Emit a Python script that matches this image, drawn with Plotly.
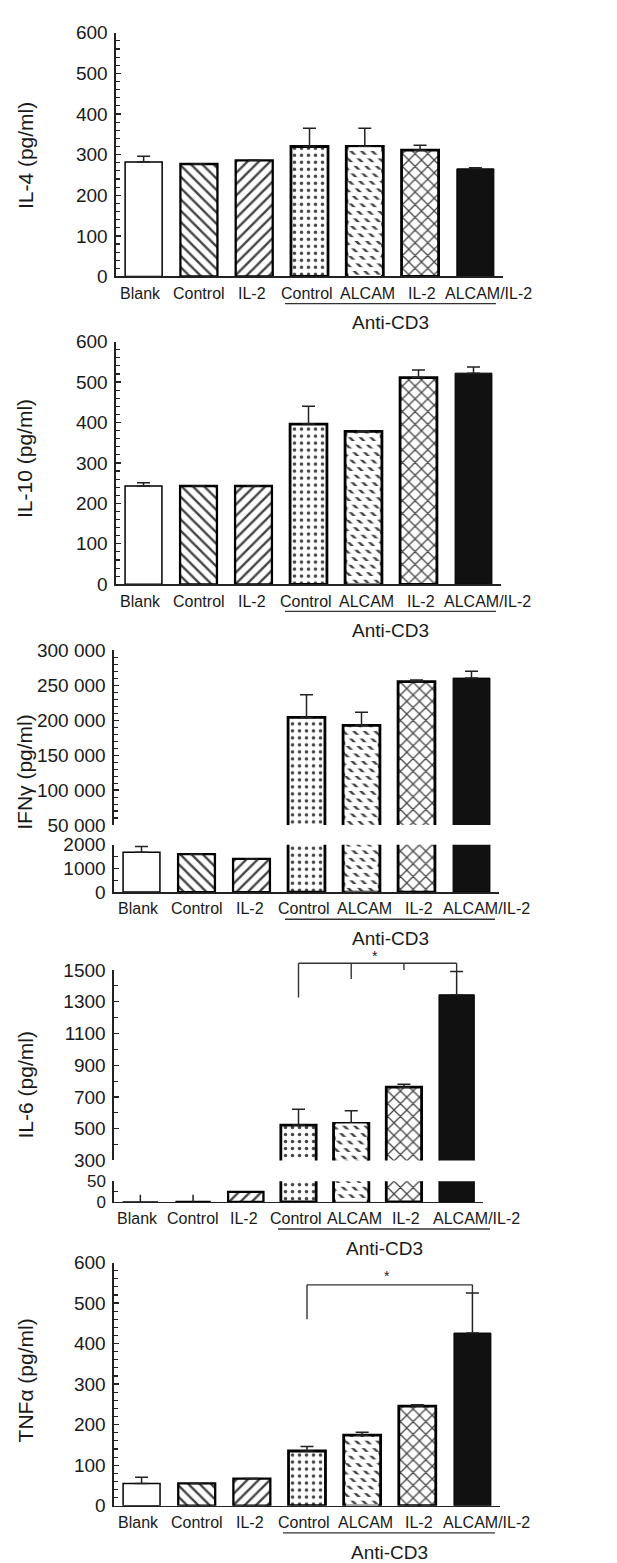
import plotly.graph_objects as go

W, H = 617, 1563

# ---------------- data ----------------
categories = ["Blank", "Control", "IL-2", "Control", "ALCAM", "IL-2", "ALCAM/IL-2"]
group_label = "Anti-CD3"

il4_mean = [282, 277, 286, 320, 320, 311, 265]
il4_sem = [14, 0, 0, 45, 45, 12, 2.5]

il10_mean = [243, 243, 243, 396, 378, 511, 522]
il10_sem = [8, 0, 0, 44, 1.5, 19, 15]

ifng_mean = [1680, 1600, 1400, 204000, 192700, 255200, 260300]
ifng_sem = [250, 0, 0, 32400, 18800, 2300, 9900]

il6_mean = [0, 0, 24, 523, 533, 762, 1344]
il6_sem = [17, 17, 0, 99, 80, 18, 146]

tnfa_mean = [55, 55, 67, 135, 174, 246, 426]
tnfa_sem = [15, 0, 0, 11, 7.5, 3, 99]

# significance brackets (value heights)
il6_bracket_top = 1543
il6_bracket_legs = [1327, 1444, 1500, 1488]
il6_star_y = 1590
tnfa_bracket_top = 545
tnfa_bracket_legs = [460, 525]
tnfa_star_y = 566

# ---------------- helpers ----------------
def fx(px):
    return px / W

def fy(py):
    return 1 - py / H

FONT = "Liberation Sans, Arial, Helvetica, sans-serif"
INK = "#000000"
AX = "#222222"
TXT = "#1a1a1a"

fills = ["white"] * 6 + ["#111111"]
pshape = ["", "\\", "/", ".", "\\", "x", ""]
psize = [8, 8, 8, 7, 7.5, 9, 8]
psolid = [0.2, 0.3, 0.3, 0.2, 0.34, 0.26, 0.2]
lwidth = [1.5, 2.3, 2.3, 2.8, 2.8, 2.8, 1]
label_shift = [-3, 0, -2, -3, 3, 2, 13]
BAR_W = 0.67

fig = go.Figure()


def add_bars(idx, means, sems, xa, ya, cap=6.5):
    fig.add_trace(go.Bar(
        x=list(idx), y=[means[i] for i in idx],
        xaxis=xa, yaxis=ya, width=BAR_W,
        marker=dict(
            color=[fills[i] for i in idx],
            line=dict(color=INK, width=[lwidth[i] for i in idx]),
            pattern=dict(shape=[pshape[i] for i in idx],
                         size=[psize[i] for i in idx],
                         solidity=[psolid[i] for i in idx],
                         fgcolor=INK, fgopacity=1, bgcolor="white"),
        ),
        error_y=dict(type="data", symmetric=False,
                     array=[sems[i] for i in idx],
                     arrayminus=[0] * len(idx),
                     color=AX, thickness=1.5, width=cap),
        showlegend=False, hoverinfo="skip",
    ))
    # break the ALCAM diagonals into short dashes
    if 4 in idx:
        fig.add_trace(go.Bar(
            x=[4], y=[means[4]], xaxis=xa, yaxis=ya, width=BAR_W - 0.08,
            marker=dict(color="rgba(255,255,255,0)", line=dict(width=0),
                        pattern=dict(shape="-", size=7.5, solidity=0.5,
                                     fgcolor="white", fgopacity=1,
                                     bgcolor="rgba(255,255,255,0)")),
            showlegend=False, hoverinfo="skip",
        ))


def yax(top, bottom, rng, xa, dtick=None, tick0=0, minor=None, fmt="d",
        tickvals=None, fsize=19):
    d = dict(domain=[fy(bottom), fy(top)], range=rng, anchor=xa,
             showline=True, linecolor=AX, linewidth=1.6,
             ticks="inside", ticklen=5, tickwidth=1.3, tickcolor=AX,
             tickfont=dict(size=fsize, color=TXT, family=FONT),
             showgrid=False, zeroline=False, tickformat=fmt,
             ticklabelstandoff=3, fixedrange=True)
    if tickvals is not None:
        d["tickmode"] = "array"
        d["tickvals"] = tickvals
    else:
        d["dtick"] = dtick
        d["tick0"] = tick0
    if minor is not None:
        d["minor"] = dict(dtick=minor, tick0=tick0, ticks="inside", ticklen=4,
                          tickwidth=1.1, tickcolor=AX, showgrid=False)
    return d


def xax(left, right, ya, visible=True):
    return dict(domain=[fx(left), fx(right)], range=[-0.5, 6.5], anchor=ya,
                visible=visible, showline=True, linecolor=AX, linewidth=1.6,
                showticklabels=False, ticks="", showgrid=False, zeroline=False,
                fixedrange=True)


all_idx = list(range(7))
cd3_idx = [3, 4, 5, 6]

layout = dict(width=W, height=H, margin=dict(l=0, r=0, t=0, b=0),
              paper_bgcolor="white", plot_bgcolor="rgba(0,0,0,0)",
              barmode="overlay", separators=". ",
              font=dict(family=FONT, color=TXT))

# Panel 1: IL-4
layout["xaxis"] = xax(108, 495, "y")
layout["yaxis"] = yax(15, 262, [0, 600], "x", dtick=100, minor=20)
add_bars(all_idx, il4_mean, il4_sem, "x", "y")

# Panel 2: IL-10
layout["xaxis2"] = xax(108, 493, "y2")
layout["yaxis2"] = yax(328, 574, [0, 600], "x2", dtick=100, minor=20)
add_bars(all_idx, il10_mean, il10_sem, "x2", "y2")

# Panel 3: IFNg (broken axis)
layout["xaxis3"] = xax(106, 491, "y3")
layout["yaxis3"] = yax(838, 886, [0, 2000], "x3", dtick=1000, minor=500)
layout["xaxis4"] = xax(106, 491, "y4", visible=False)
layout["yaxis4"] = yax(641, 818, [50000, 300000], "x4", dtick=50000, minor=10000, fmt=",d")
add_bars(all_idx, ifng_mean, [ifng_sem[i] if i < 3 else 0 for i in all_idx], "x3", "y3")
add_bars(cd3_idx, ifng_mean, ifng_sem, "x4", "y4")

# Panel 4: IL-6 (broken axis)
layout["xaxis5"] = xax(106, 475, "y5")
layout["yaxis5"] = yax(1179, 1200, [0, 50], "x5", tickvals=[0, 50], minor=25, fsize=17)
layout["xaxis6"] = xax(106, 475, "y6", visible=False)
layout["yaxis6"] = yax(965, 1158, [300, 1500], "x6", dtick=200, tick0=300, minor=100)
add_bars(all_idx, il6_mean, [il6_sem[i] if i < 3 else 0 for i in all_idx], "x5", "y5", cap=0)
add_bars(cd3_idx, il6_mean, il6_sem, "x6", "y6")

# Panel 5: TNFa
layout["xaxis7"] = xax(106, 492, "y7")
layout["yaxis7"] = yax(1261.5, 1508, [0, 600], "x7", dtick=100, minor=20)
add_bars(all_idx, tnfa_mean, tnfa_sem, "x7", "y7")

annotations = []
shapes = []

panels = [
    # xref, axis bottom px, y-title, title centre px, last-label extra shift, underline px
    ("x", 262, "IL-4 (pg/ml)", 140, 0, (277, 488)),
    ("x2", 574, "IL-10 (pg/ml)", 447, 1, (277, 488)),
    ("x3", 886, "IFNγ (pg/ml)", 764, 2, (277, 487)),
    ("x5", 1200, "IL-6 (pg/ml)", 1082, 7, (270, 482)),
    ("x7", 1508, "TNFα (pg/ml)", 1381, 1, (275, 487)),
]

for xref, ybot, ytitle, ymid, extra, (ul0, ul1) in panels:
    for i, lab in enumerate(categories):
        annotations.append(dict(
            x=i, xref=xref, y=fy(ybot + 17), yref="paper", text=lab,
            showarrow=False, xanchor="center", yanchor="middle",
            xshift=label_shift[i] + (extra if i == 6 else 0),
            font=dict(size=16, color=TXT, family=FONT)))
    shapes.append(dict(type="line", xref="paper", yref="paper",
                       x0=fx(ul0), x1=fx(ul1), y0=fy(ybot + 27.5), y1=fy(ybot + 27.5),
                       line=dict(color="#333", width=1.4)))
    annotations.append(dict(
        x=fx((ul0 + ul1) / 2), xref="paper", y=fy(ybot + 47), yref="paper",
        text=group_label, showarrow=False, xanchor="center", yanchor="middle",
        font=dict(size=19, color=TXT, family=FONT)))
    annotations.append(dict(
        x=fx(17), xref="paper", y=fy(ymid), yref="paper", text=ytitle,
        textangle=-90, showarrow=False, xanchor="center", yanchor="middle",
        font=dict(size=21, color=TXT, family=FONT)))

# IL-6 bracket (above the axis range -> use domain fraction of y6)
r0, r1 = 300, 1500

def f6(v):
    return (v - r0) / (r1 - r0)

br_x = [3, 4, 5, 6]
shapes.append(dict(type="line", xref="x6", yref="y6 domain", x0=3, x1=6,
                   y0=f6(il6_bracket_top), y1=f6(il6_bracket_top),
                   line=dict(color="#333", width=1.4)))
for bx, leg in zip(br_x, il6_bracket_legs):
    shapes.append(dict(type="line", xref="x6", yref="y6 domain", x0=bx, x1=bx,
                       y0=f6(il6_bracket_top), y1=f6(leg),
                       line=dict(color="#333", width=1.4)))
annotations.append(dict(x=4.45, xref="x6", y=f6(il6_star_y), yref="y6 domain",
                        text="*", showarrow=False, xanchor="center", yanchor="middle",
                        font=dict(size=14, color=TXT, family=FONT)))

# TNFa bracket
shapes.append(dict(type="line", xref="x7", yref="y7", x0=3, x1=6,
                   y0=tnfa_bracket_top, y1=tnfa_bracket_top,
                   line=dict(color="#333", width=1.4)))
for bx, leg in zip([3, 6], tnfa_bracket_legs):
    shapes.append(dict(type="line", xref="x7", yref="y7", x0=bx, x1=bx,
                       y0=tnfa_bracket_top, y1=leg,
                       line=dict(color="#333", width=1.4)))
annotations.append(dict(x=4.45, xref="x7", y=tnfa_star_y, yref="y7",
                        text="*", showarrow=False, xanchor="center", yanchor="middle",
                        font=dict(size=14, color=TXT, family=FONT)))

layout["annotations"] = annotations
layout["shapes"] = shapes
fig.update_layout(**layout)

fig.write_html("out.html", config={"displayModeBar": False, "staticPlot": True})
